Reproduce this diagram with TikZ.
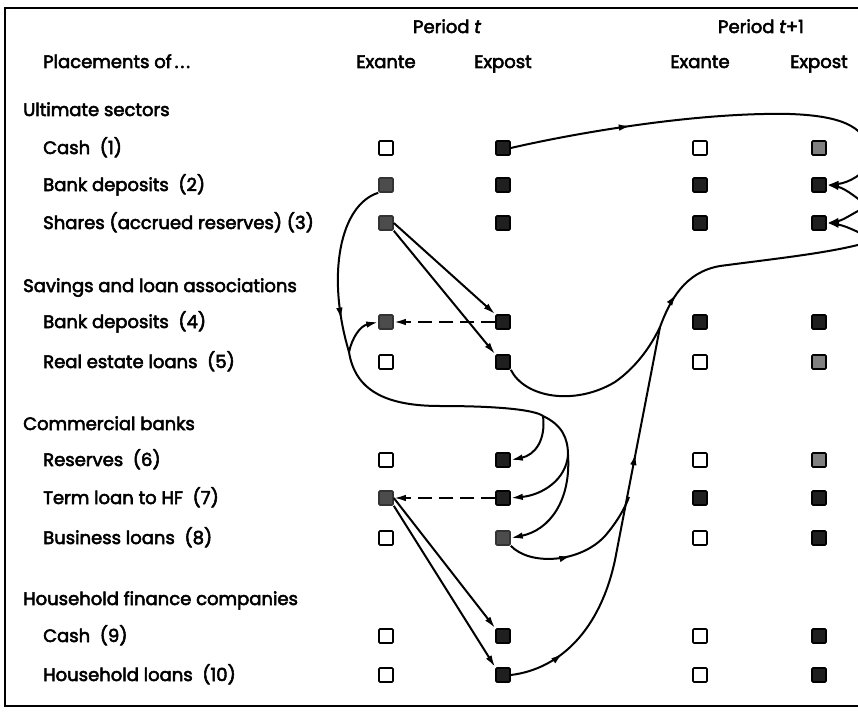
\documentclass[tikz,border=0pt]{standalone}
\usepackage{fontspec}
\setmainfont{Poppins}
\newfontfamily\lblfont{Poppins}[FakeBold=3]
\usetikzlibrary{arrows.meta,decorations.markings}
\begin{document}
\begin{tikzpicture}[x=1pt,y=-1pt,
  lab/.style={anchor=base west, inner sep=0, font=\lblfont\fontsize{18}{20}\selectfont},
  hdr/.style={anchor=base, inner sep=0, font=\lblfont\fontsize{18}{20}\selectfont},
  bx/.style={minimum size=14pt, inner sep=0, line width=1.6pt, rounded corners=1pt},
  openbox/.style={bx, draw=black, fill=white},
  antebox/.style={bx, draw=black!80, fill=black!70},
  postbox/.style={bx, draw=black, fill=black!88},
  greybox/.style={bx, draw=black, fill=black!50},
  flow/.style={line width=2pt, black},
  tip/.style={-{Latex[length=12pt,width=6.5pt]}},
  midarrow/.style={postaction={decorate, decoration={markings, mark=at position #1 with {\arrow{Latex[length=12pt,width=6.5pt]}}}}},
]
\useasboundingbox (0,0) rectangle (858,714);
\clip (0,0) rectangle (858,714);
\draw[line width=2.4pt] (5,8) rectangle (880,706);

% headers
\node[hdr] (pt) at (447,33) {Period {\itshape t}};
\node[hdr] (pt1) at (761,33) {Period {\itshape t}+1};
\node[lab] (plc) at (43,68) {Placements of\kern3pt.\kern2pt.\kern2pt.};
\node[hdr] (h1) at (386,68) {Exante};
\node[hdr] (h2) at (503,68) {Expost};
\node[hdr] (h3) at (700,68) {Exante};
\node[hdr] (h4) at (819,68) {Expost};

% labels
\node[lab] (s1) at (23,116) {Ultimate sectors};
\node[lab] (l1) at (43,154) {Cash\ \ (1)};
\node[lab] (l2) at (43,191) {Bank deposits\ \ (2)};
\node[lab] (l3) at (43,229) {Shares (accrued reserves) (3)};
\node[lab] (s2) at (23,292) {Savings and loan associations};
\node[lab] (l4) at (43,328) {Bank deposits\ \ (4)};
\node[lab] (l5) at (43,368) {Real estate loans\ \ (5)};
\node[lab] (s3) at (23,430) {Commercial banks};
\node[lab] (l6) at (43,466) {Reserves\ \ (6)};
\node[lab] (l7) at (43,504) {Term loan to HF\ \ (7)};
\node[lab] (l8) at (43,544) {Business loans\ \ (8)};
\node[lab] (s4) at (23,605) {Household finance companies};
\node[lab] (l9) at (43,642) {Cash\ \ (9)};
\node[lab] (l10) at (43,681) {Household loans\ \ (10)};

% boxes
\node[openbox] (b1a) at (386,148) {};
\node[postbox] (b1b) at (503,148) {};
\node[openbox] (b1c) at (700,148) {};
\node[greybox] (b1d) at (819,148) {};
\node[antebox] (b2a) at (386,185) {};
\node[postbox] (b2b) at (503,185) {};
\node[postbox] (b2c) at (700,185) {};
\node[postbox] (b2d) at (819,185) {};
\node[antebox] (b3a) at (386,223) {};
\node[postbox] (b3b) at (503,223) {};
\node[postbox] (b3c) at (700,223) {};
\node[postbox] (b3d) at (819,223) {};
\node[antebox] (b4a) at (386,322) {};
\node[postbox] (b4b) at (503,322) {};
\node[postbox] (b4c) at (700,322) {};
\node[postbox] (b4d) at (819,322) {};
\node[openbox] (b5a) at (386,362) {};
\node[postbox] (b5b) at (503,362) {};
\node[openbox] (b5c) at (700,362) {};
\node[greybox] (b5d) at (819,362) {};
\node[openbox] (b6a) at (386,460) {};
\node[postbox] (b6b) at (503,460) {};
\node[openbox] (b6c) at (700,460) {};
\node[greybox] (b6d) at (819,460) {};
\node[antebox] (b7a) at (386,498) {};
\node[postbox] (b7b) at (503,498) {};
\node[postbox] (b7c) at (700,498) {};
\node[postbox] (b7d) at (819,498) {};
\node[openbox] (b8a) at (386,538) {};
\node[antebox] (b8b) at (503,538) {};
\node[openbox] (b8c) at (700,538) {};
\node[postbox] (b8d) at (819,538) {};
\node[openbox] (b9a) at (386,636) {};
\node[postbox] (b9b) at (503,636) {};
\node[openbox] (b9c) at (700,636) {};
\node[postbox] (b9d) at (819,636) {};
\node[openbox] (b10a) at (386,675) {};
\node[postbox] (b10b) at (503,675) {};
\node[openbox] (b10c) at (700,675) {};
\node[postbox] (b10d) at (819,675) {};

% junction points (some lie beyond the right edge)
\coordinate (rA) at (870,160);
\coordinate (rB) at (868,207);
\coordinate (rC) at (875,240);
\coordinate (M) at (660,327);

% cash flow across the top
\draw[flow, midarrow=122pt] (b1b.east) .. controls (580,132) and (700,112) .. (790,114) .. controls (845,116) and (870,128) .. (rA);
\draw[flow] (rA) -- (rB) -- (rC);
\draw[flow,tip] (rA) .. controls (866,174) and (848,183) .. (b2d.east);
\draw[flow,tip] (rB) .. controls (860,200) and (845,188) .. (b2d.east);
\draw[flow,tip] (rB) .. controls (860,208) and (845,220) .. (b3d.east);
\draw[flow,tip] (rC) .. controls (865,236) and (848,226) .. (b3d.east);

% bank deposits flow down the left
\draw[flow, midarrow=142pt] (b2a.south west) .. controls (340,205) and (326,275) .. (349,352) coordinate (J) .. controls (355,390) and (385,406) .. (440,406) .. controls (500,406) and (535,410) .. (543,416) coordinate (K1) .. controls (562,425) and (568,438) .. (568,455) coordinate (K2);
\draw[flow,tip] (J) .. controls (352,338) and (360,326) .. (b4a.west);
\draw[flow,tip] (K1) .. controls (546,440) and (535,455) .. (b6b.east);
\draw[flow,tip] (K2) .. controls (566,480) and (542,495) .. (b7b.east);
\draw[flow,tip] (K2) .. controls (571,500) and (550,530) .. (b8b.east);

% straight arrows
\draw[flow,tip] (b3a.east) -- (b4b.north west);
\draw[flow,tip] (b3a.south east) -- (b5b.north west);
\draw[flow,tip] (b7a.east) -- (b9b.north west);
\draw[flow,tip] (b7a.south east) -- (b10b.north west);

% dashed
\draw[flow, dash pattern=on 14pt off 7pt, tip] (b4b.west) -- (b4a.east);
\draw[flow, dash pattern=on 14pt off 7pt, tip] (b7b.west) -- (b7a.east);

% loans flowing up to the right
\draw[flow] (b5b.south east) .. controls (525,398) and (575,406) .. (615,382) .. controls (635,368) and (650,348) .. (M);
\draw[flow, midarrow=57pt, midarrow=275pt] (b10b.east) .. controls (560,669) and (600,630) .. (615,560) .. controls (630,482) and (645,405) .. (M);
\draw[flow, midarrow=64pt] (b8b.south east) .. controls (530,566) and (580,563) .. (605,536) .. controls (617,522) and (625,508) .. (629,497);
\draw[flow, midarrow=37pt] (M) .. controls (670,300) and (685,272) .. (720,266) .. controls (780,258) and (840,252) .. (rC);
\end{tikzpicture}
\end{document}
